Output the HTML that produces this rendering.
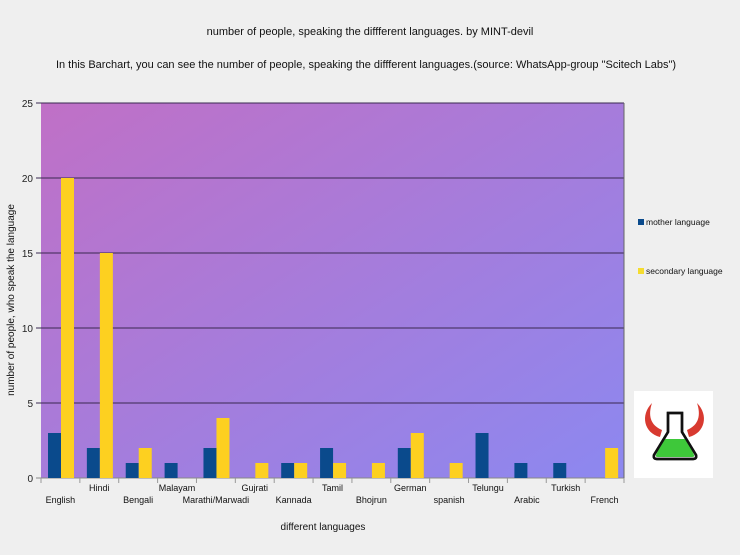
<!DOCTYPE html>
<html><head><meta charset="utf-8"><style>
html,body{margin:0;padding:0;background:#efefef;}
svg{display:block;font-family:"Liberation Sans",Arial,sans-serif;}
</style></head><body>
<svg id="s" width="740" height="555" viewBox="0 0 740 555" xmlns="http://www.w3.org/2000/svg">
<defs>
<linearGradient id="g" x1="0" y1="0" x2="1" y2="1">
<stop offset="0" stop-color="#c070c6"/>
<stop offset="1" stop-color="#8c88f0"/>
</linearGradient>
</defs>
<rect width="740" height="555" fill="#efefef"/>
<text x="370" y="35" font-size="11" text-anchor="middle" fill="#111">number of people, speaking the diffferent languages. by MINT-devil</text>
<text x="366" y="68" font-size="11" text-anchor="middle" fill="#111">In this Barchart, you can see the number of people, speaking the diffferent languages.(source: WhatsApp-group "Scitech Labs")</text>
<rect x="41" y="103" width="583" height="375" fill="url(#g)"/>
<g id="grid"></g>
<g id="bars"></g>
<line x1="624" y1="103" x2="624" y2="478" stroke="#666" stroke-width="1"/>
<g id="labels" font-size="9" fill="#111"></g>
<text x="14" y="300" font-size="10" text-anchor="middle" transform="rotate(-90 14 300)" fill="#111">number of people, who speak the language</text>
<text x="323" y="530" font-size="10" text-anchor="middle" fill="#111">different languages</text>
<rect x="638" y="219" width="6" height="6" fill="#0a4a8c"/>
<text x="646" y="225" font-size="8.5" fill="#111">mother language</text>
<rect x="638" y="268" width="6" height="6" fill="#f5dc30"/>
<text x="646" y="274" font-size="8.5" fill="#111">secondary language</text>
<rect x="634" y="391" width="79" height="87" fill="#fff"/>
<g>
<path d="M652 403 C640 415 644 433 660 437 L662 430 C650 425 648 415 652 403Z" fill="#d83a30"/>
<path d="M697 403 C709 415 705 433 689 437 L687 430 C699 425 701 415 697 403Z" fill="#d83a30"/>
<path d="M668 413 L682 413 L682 432 L696 455 Q697 459 693 459 L657 459 Q653 459 654 455 L668 432 Z" fill="#fff" stroke="#111" stroke-width="2.5"/>
<path d="M663 439 L687 439 L694 455 Q695 457 692 457 L658 457 Q655 457 656 455 Z" fill="#3ec83a"/>
<path d="M668 413 L682 413 L682 432 L696 455 Q697 459 693 459 L657 459 Q653 459 654 455 L668 432 Z" fill="none" stroke="#111" stroke-width="2.5"/>
</g>
</svg>
<script>
var ns="http://www.w3.org/2000/svg";
function el(p,t,a,txt){var e=document.createElementNS(ns,t);for(var k in a)e.setAttribute(k,a[k]);if(txt)e.textContent=txt;document.getElementById(p).appendChild(e);}
for(var v=0;v<=25;v+=5){var y=478-v*15;
 el("grid","line",{x1:36,y1:y,x2:624,y2:y,stroke:v==0?"#888":"#3a2850","stroke-width":1});
 el("grid","text",{x:33,y:y+4,"font-size":10,"text-anchor":"end",fill:"#222"},String(v));}
var names=["English","Hindi","Bengali","Malayam","Marathi/Marwadi","Gujrati","Kannada","Tamil","Bhojrun","German","spanish","Telungu","Arabic","Turkish","French"];
var m=[3,2,1,1,2,0,1,2,0,2,0,3,1,1,0],s=[20,15,2,0,4,1,1,1,1,3,1,0,0,0,2];
var w=583/15;
for(var i=0;i<15;i++){var x0=41+i*w;
 if(m[i])el("bars","rect",{x:x0+7,y:478-m[i]*15,width:13,height:m[i]*15,fill:"#0a4a8c"});
 if(s[i])el("bars","rect",{x:x0+20,y:478-s[i]*15,width:13,height:s[i]*15,fill:"#fdd020"});
 el("grid","line",{x1:x0,y1:478,x2:x0,y2:483,stroke:"#999"});
 el("labels","text",{x:x0+w/2,y:(i%2?491:503),"text-anchor":"middle"},names[i]);}
el("grid","line",{x1:624,y1:478,x2:624,y2:483,stroke:"#999"});
</script>
</body></html>
